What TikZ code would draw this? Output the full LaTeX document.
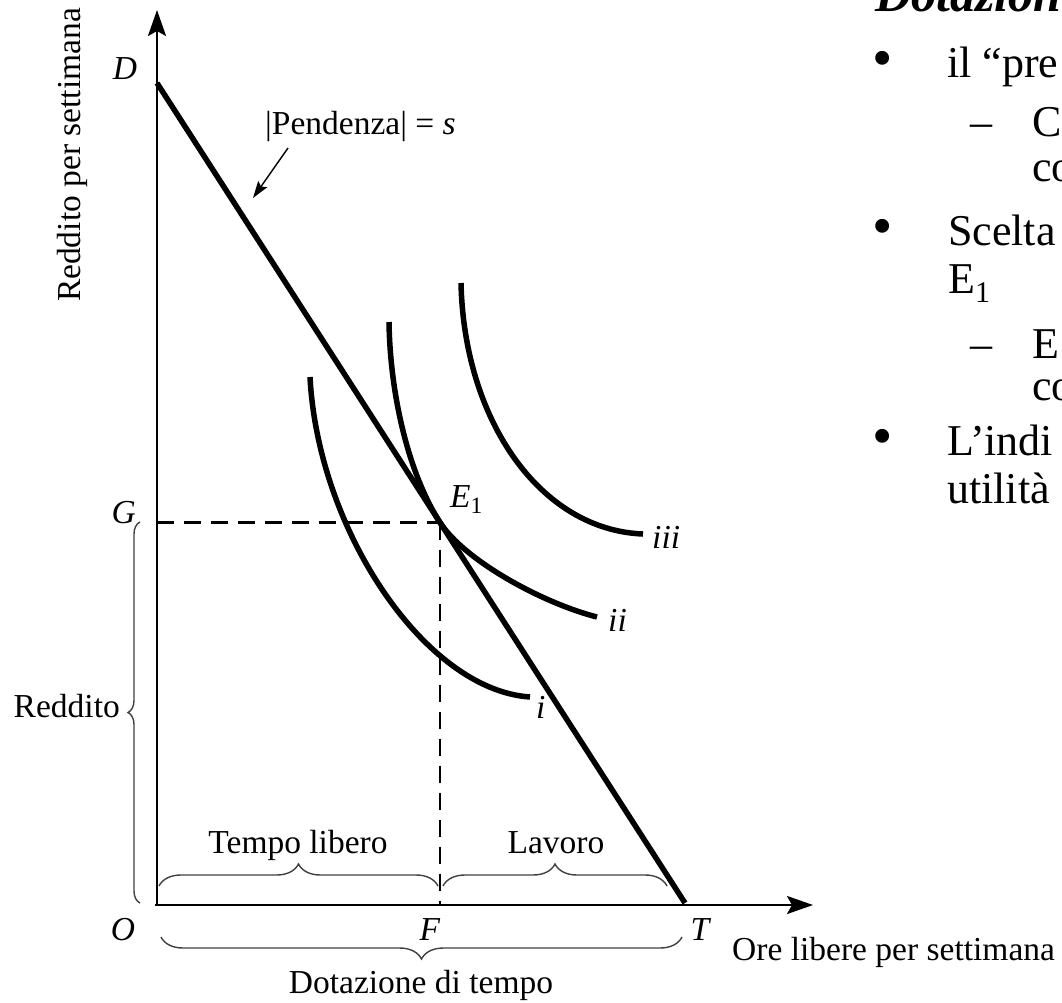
\documentclass[tikz,border=0pt]{standalone}
\usepackage{fontspec}
\setmainfont{Liberation Serif}
\usetikzlibrary{arrows.meta,decorations.pathreplacing}
\begin{document}
\begin{tikzpicture}[x=1pt,y=-1pt,
  lab/.style={font=\fontsize{33.5}{40}\selectfont, inner sep=0pt},
  slide/.style={font=\fontsize{44}{52}\selectfont, inner sep=0pt, anchor=base west},
  bulletmark/.style={font=\fontsize{58}{60}\selectfont, inner sep=0pt, anchor=base west},
  axisline/.style={line width=2.6pt, -{Stealth[length=26pt,width=18pt,inset=5pt]}},
  budget/.style={line width=5.5pt},
  icurve/.style={line width=5.5pt},
  guide/.style={line width=2.4pt, dash pattern=on 17pt off 10pt},
  bracestyle/.style={decorate, line width=1.4pt, black!75},
  pointer/.style={line width=1.4pt, -{Stealth[length=17pt,width=11pt,inset=3pt]}}]
\useasboundingbox (0,0) rectangle (1062,1003);
\clip (0,0) rectangle (1062,1003);
% key coordinates
\coordinate (O) at (157,905);
\coordinate (Ytip) at (157,10);
\coordinate (Xstart) at (155,905);
\coordinate (Xtip) at (813,905);
\coordinate (D) at (157,83);
\coordinate (T) at (685,903);
\coordinate (E1) at (440,522.5);
\coordinate (Gp) at (157,522.5);
\coordinate (Fp) at (440,905);
% axes
\draw[axisline] (O) -- (Ytip);
\draw[axisline] (Xstart) -- (Xtip);
% dashed guides
\draw[guide] (Gp) -- (E1);
\draw[guide] (E1) -- (Fp);
% budget line
\draw[budget] (D) -- (T);
% indifference curves
\coordinate (i0) at (310,377);
\coordinate (i1) at (530,697);
\coordinate (ii0) at (389,322);
\coordinate (ii1) at (597,617);
\coordinate (iii0) at (461,283);
\coordinate (iii1) at (643,534);
\draw[icurve] (i0) .. controls (318,530) and (425,690) .. (i1);
\draw[icurve] (ii0) .. controls (390,392) and (407.5,472.1) .. (E1)
  .. controls (464.4,560.3) and (542,603) .. (ii1);
\draw[icurve] (iii0) .. controls (464,420) and (540,530) .. (iii1);
% curve labels
\node[lab, anchor=base west] (li) at (536,718) {\textit{i}};
\node[lab, anchor=west] (lii) at (608,620) {\textit{ii}};
\node[lab, anchor=west] (liii) at (652,537) {\textit{iii}};
\node[lab, anchor=base west] (lE) at (450,507) {\textit{E}\textsubscript{1}};
% axis labels
\node[lab, anchor=base] (lD) at (125,80) {\textit{D}};
\node[lab, anchor=base east] (lG) at (136,523) {\textit{G}};
\node[lab, anchor=base] (lO) at (123,940) {\textit{O}};
\node[lab, anchor=base] (lF) at (430,940) {\textit{F}};
\node[lab, anchor=base] (lT) at (701,940) {\textit{T}};
\node[lab, rotate=90] (ylab) at (72,155) {Reddito per settimana};
\node[lab, anchor=base west] (xlab) at (732,960) {Ore libere per settimana};
% slope label and pointer
\node[lab, anchor=base west] (slope) at (265,135) {|Pendenza| = \textit{s}};
\coordinate (pa) at (288,148);
\coordinate (pb) at (253,198);
\draw[pointer] (pa) -- (pb);
% braces
\draw[bracestyle, decoration={brace, amplitude=12pt}] (140,903) -- (140,522);
\node[lab, anchor=base east] (lRed) at (120,717) {Reddito};
\draw[bracestyle, decoration={brace, amplitude=22pt}] (159,886) -- (438,886);
\draw[bracestyle, decoration={brace, amplitude=22pt}] (443,886) -- (667,886);
\node[lab, anchor=base] (lTL) at (298,853) {Tempo libero};
\node[lab, anchor=base] (lLav) at (556,853) {Lavoro};
\draw[bracestyle, decoration={brace, amplitude=22pt}] (682,937) -- (161,937);
\node[lab, anchor=base] (lDot) at (421,993) {Dotazione di tempo};
% slide text (cut at the right edge, as in the reference)
\node[slide, font=\fontsize{50}{60}\selectfont\bfseries\itshape] (head) at (875,12) {Dotazion};
\node[bulletmark] (b1) at (872,78) {•};
\node[slide] (t1) at (947,78) {il “pre};
\node[slide] (d1) at (970,137) {–};
\node[slide] (t2) at (1032,137) {C};
\node[slide] (t3) at (1032,182) {co};
\node[bulletmark] (b2) at (872,245) {•};
\node[slide] (t4) at (948,245) {Scelta};
\node[slide] (t5) at (948,293) {E\raisebox{-0.22em}{\fontsize{30}{30}\selectfont 1}};
\node[slide] (d2) at (970,358) {–};
\node[slide] (t6) at (1032,358) {E};
\node[slide] (t7) at (1032,400) {co};
\node[bulletmark] (b3) at (872,455) {•};
\node[slide] (t8) at (947,455) {L’indi};
\node[slide] (t9) at (947,503) {utilità};
\end{tikzpicture}
\end{document}
